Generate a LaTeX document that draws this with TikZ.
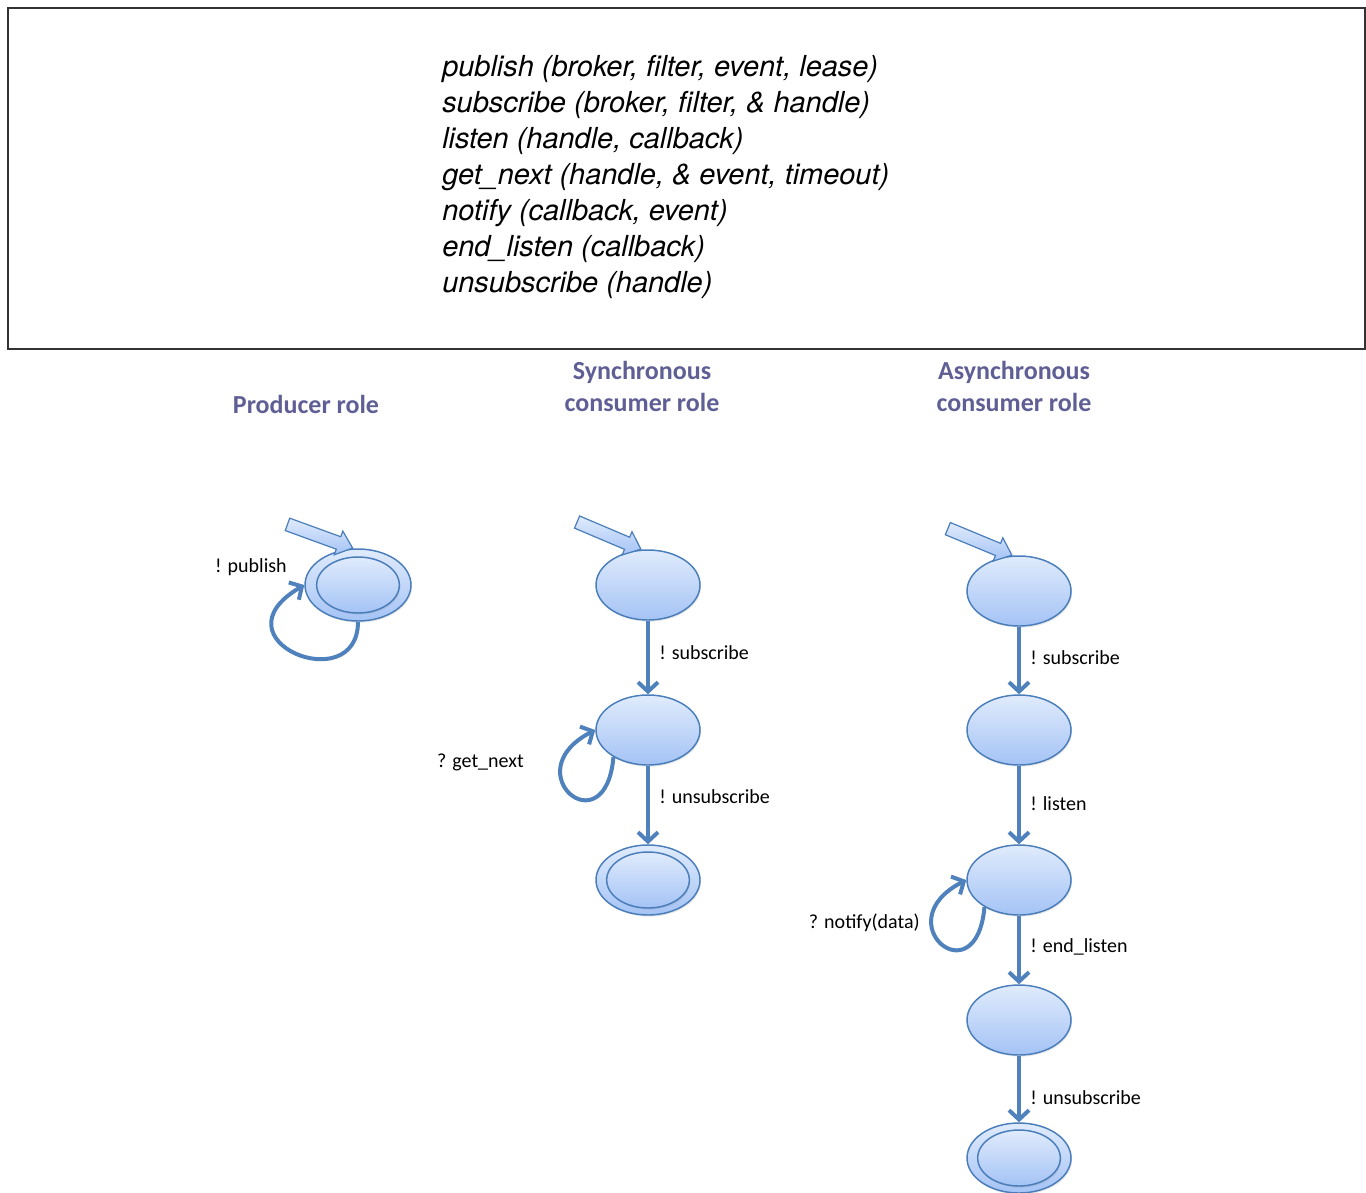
\documentclass[tikz,border=0pt]{standalone}
\usepackage{fontspec}
\setmainfont{Carlito}
\newfontfamily\helv{TeX Gyre Heros}
\usepackage{tikz}
\usetikzlibrary{shapes,arrows,arrows.meta,calc,shadows}
\definecolor{stateline}{RGB}{74,126,187}
\definecolor{statetop}{RGB}{224,235,252}
\definecolor{statebot}{RGB}{164,195,245}
\definecolor{transline}{RGB}{79,129,189}
\definecolor{rolehead}{RGB}{95,95,150}

\begin{document}
\begin{tikzpicture}[x=0.75pt, y=-0.75pt, >={Straight Barb[length=7pt,width=15pt]},
  font=\fontsize{15}{18}\selectfont]
\tikzset{%
  state/.style = {%
    ellipse,
    draw = stateline,
    line width = 1.1pt,
    top color = statetop,
    bottom color = statebot,
    drop shadow = {opacity=.2, shadow xshift=.8pt, shadow yshift=-1.2pt},
    minimum width = 78pt,
    minimum height = 52.5pt,
    inner sep = 0pt
  },
  finalcore/.style = {%
    state,
    minimum width = 62pt,
    minimum height = 42pt
  },
  startarrow/.style = {%
    single arrow,
    draw = stateline,
    line width = .9pt,
    top color = statetop,
    bottom color = statebot,
    inner sep = 4.5pt,
    single arrow head extend = 4.5pt,
    single arrow tip angle = 80,
    minimum height = 52pt,
    anchor = tip
  },
  trans/.style = {->, draw=transline, line width=3pt},
  edgelbl/.style = {right=7pt, inner sep=0pt},
  lbl/.style = {inner sep=0pt},
  role/.style = {font=\bfseries\fontsize{19.5}{24}\selectfont, text=rolehead, align=center},
  api/.style = {font=\helv\itshape\fontsize{21.7}{27}\selectfont, align=left, inner sep=0pt}
}
  \useasboundingbox (0,0) rectangle (1366,1192);

  \draw[line width=.8pt, draw=black!80] (8,8) rectangle (1365,349);
  \node[api, anchor=west] (api) at (442,177)
    {publish (broker, filter, event, lease)\\
     subscribe (broker, filter, \& handle)\\
     listen (handle, callback)\\
     get\_next (handle, \& event, timeout)\\
     notify (callback, event)\\
     end\_listen (callback)\\
     unsubscribe (handle)};

  \node[role] (prodrole) at (306,404) {Producer role};
  \node[role] (syncrole) at (642,386) {Synchronous\\consumer role};
  \node[role] (asyncrole) at (1014,386) {Asynchronous\\consumer role};

  % producer
  \node[state, minimum width=79.5pt, minimum height=54pt] (prod) at (358,585) {};
  \node[finalcore] (prodcore) at (prod) {};
  \node[startarrow, rotate=-20] (prodin) at (prod.97) {};
  \draw[trans] (prod.south) .. controls +(0,78) and +(-94,55) .. (prod.west);
  \node[lbl, anchor=east] (publish) at (287,567) {! publish};

  % synchronous consumer
  \node[state] (s1) at (648,585) {};
  \node[state, node distance=108.75pt, below of=s1] (s2) {};
  \node[state, node distance=112.5pt, below of=s2] (s3) {};
  \node[finalcore] (s3core) at (s3) {};
  \node[startarrow, rotate=-23] (s1in) at (s1.100) {};
  \draw[trans] (s1) -- node[edgelbl, pos=.44] {! subscribe} (s2);
  \draw[trans] (s2) -- node[edgelbl, pos=.39] {! unsubscribe} (s3);
  \draw[trans] (s2.-142) .. controls +(-8,92) and +(-82,42) .. (s2.west);
  \node[lbl, anchor=east] (getnext) at (524,762) {? get\_next};

  % asynchronous consumer
  \node[state] (a1) at (1019,591) {};
  \node[state, node distance=104.25pt, below of=a1] (a2) {};
  \node[state, node distance=112.5pt, below of=a2] (a3) {};
  \node[state, node distance=105pt, below of=a3] (a4) {};
  \node[state, node distance=103.5pt, below of=a4] (a5) {};
  \node[finalcore] (a5core) at (a5) {};
  \node[startarrow, rotate=-22.5] (a1in) at (a1.100) {};
  \draw[trans] (a1) -- node[edgelbl, pos=.46] {! subscribe} (a2);
  \draw[trans] (a2) -- node[edgelbl, pos=.48] {! listen} (a3);
  \draw[trans] (a3) -- node[edgelbl, pos=.46] {! end\_listen} (a4);
  \draw[trans] (a4) -- node[edgelbl, pos=.63] {! unsubscribe} (a5);
  \draw[trans] (a3.-142) .. controls +(-8,92) and +(-82,42) .. (a3.west);
  \node[lbl, anchor=east] (notify) at (920,923) {? notify(data)};
\end{tikzpicture}
\end{document}
